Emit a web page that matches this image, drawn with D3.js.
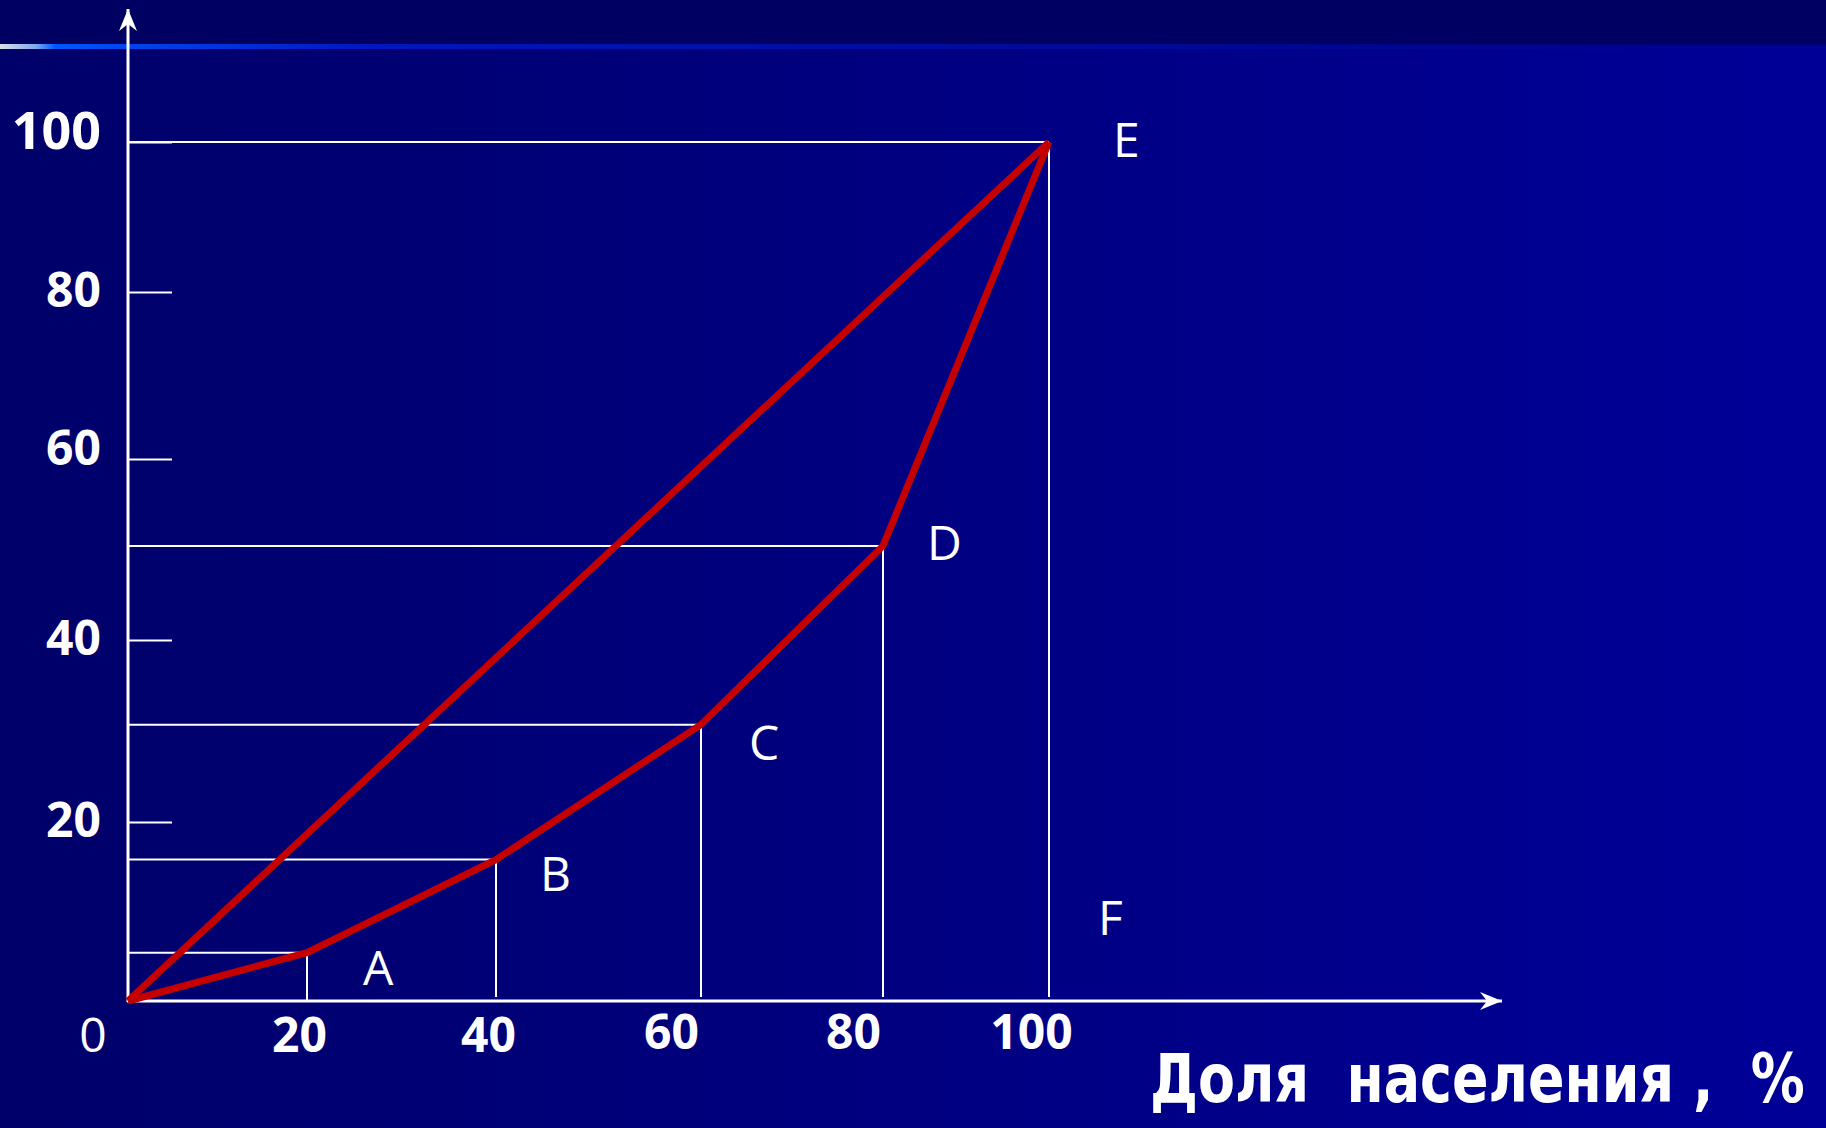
<!DOCTYPE html>
<html>
<head>
<meta charset="utf-8">
<script src="https://cdn.jsdelivr.net/npm/d3@7"></script>
<style>
  body { margin: 0; background: #000066; }
  svg { display: block; }
</style>
</head>
<body>
<svg id="chart" width="1826" height="1128"></svg>
<script>
// Lorenz curve data
const shareTicks = [0, 20, 40, 60, 80, 100];
const pointNames = ['O', 'A', 'B', 'C', 'D', 'E'];
const populationShare = [0, 20, 40, 60, 80, 100];
const incomeShare = [0, 5.4, 15.8, 30.7, 50.4, 100];
const yTickValues = [20, 40, 60, 80, 100];
const xTickValues = [20, 40, 60, 80, 100];
const originLabel = '0';
const axisTitle = 'Доля  населения ,  %';

const width = 1826;
const height = 1128;

// the drawing is hand-made, so scales are piecewise
const x = d3.scaleLinear().domain(shareTicks).range([128, 307, 496, 701, 883, 1049]);
const y = d3.scaleLinear().domain(shareTicks).range([1001, 822, 640, 459, 292, 142]);

const labelOffsets = {
  A: [56, 32], B: [44, 31], C: [48, 35], D: [44, 14], E: [64, 15], F: [49, -66]
};
const xLabelShift = { 20: -8, 40: -8, 60: -30, 80: -30, 100: -18 };

const points = populationShare.map((p, i) => ({ name: pointNames[i], px: p, py: incomeShare[i] }));

const svg = d3.select('#chart');
const defs = svg.append('defs');

const bg = defs.append('linearGradient').attr('id', 'bg').attr('x1', 0).attr('x2', 1).attr('y1', 0).attr('y2', 0);
bg.append('stop').attr('offset', 0).attr('stop-color', '#00006a');
bg.append('stop').attr('offset', 1).attr('stop-color', '#000098');

const rule = defs.append('linearGradient').attr('id', 'rule').attr('x1', 0).attr('x2', 1).attr('y1', 0).attr('y2', 0);
[[0, '#d8e0e8', 1], [0.02, '#7aa8f0', 1], [0.03, '#0058ff', 1], [0.06, '#0048f0', 1],
 [0.2, '#0018c0', 1], [0.6, '#000ca0', 0.8], [1, '#000890', 0.3]].forEach(([o, c, a]) => {
  rule.append('stop').attr('offset', o).attr('stop-color', c).attr('stop-opacity', a);
});

defs.append('marker')
  .attr('id', 'arrow')
  .attr('markerUnits', 'userSpaceOnUse')
  .attr('viewBox', '-24 -10 26 20')
  .attr('refX', 0).attr('refY', 0)
  .attr('markerWidth', 26).attr('markerHeight', 20)
  .attr('orient', 'auto')
  .append('path')
  .attr('d', 'M0,0 L-22,-9 L-15,0 L-22,9 Z')
  .attr('fill', '#ffffff');

// background
svg.append('rect').attr('width', width).attr('height', height).attr('fill', 'url(#bg)');
svg.append('rect').attr('width', width).attr('height', 46).attr('fill', '#000062');
svg.append('rect').attr('y', 44).attr('width', width).attr('height', 5).attr('fill', 'url(#rule)');

const g = svg.append('g');

// guide lines to each point
const guides = points.filter(d => d.name !== 'O');
g.selectAll('.hguide').data(guides).join('line')
  .attr('x1', x(0)).attr('x2', d => x(d.px))
  .attr('y1', d => y(d.py)).attr('y2', d => y(d.py))
  .attr('stroke', '#ffffff').attr('stroke-width', 2);
g.selectAll('.vguide').data(guides).join('line')
  .attr('x1', d => x(d.px)).attr('x2', d => x(d.px))
  .attr('y1', d => y(d.py)).attr('y2', d => d.name === 'A' ? y(0) : y(0) - 4)
  .attr('stroke', '#ffffff').attr('stroke-width', 2);

// y axis ticks and labels
const yAxis = d3.axisLeft(y).tickValues(yTickValues).tickSize(-44).tickPadding(27);
const yg = g.append('g').attr('transform', `translate(${x(0)},0)`).call(yAxis);
yg.select('.domain').remove();
yg.selectAll('line').attr('stroke', '#ffffff').attr('stroke-width', 2);
yg.selectAll('text')
  .attr('fill', '#ffffff')
  .attr('font-family', '"Open Sans", sans-serif')
  .attr('font-weight', 700)
  .attr('font-size', d => d === 100 ? 52 : 48)
  .attr('dy', d => (d === 100 || d === 60) ? '0.12em' : '0.3em');

// x axis labels (hand-placed in the original, so nudged toward the left)
const xAxis = d3.axisBottom(x).tickValues(xTickValues).tickSize(0).tickPadding(14);
const xg = g.append('g').attr('transform', `translate(0,${y(0)})`).call(xAxis);
xg.select('.domain').remove();
xg.selectAll('text')
  .attr('fill', '#ffffff')
  .attr('font-family', '"Open Sans", sans-serif')
  .attr('font-weight', 700)
  .attr('font-size', 48)
  .attr('dx', d => xLabelShift[d])
  .attr('dy', d => d <= 40 ? '0.78em' : '0.7em');

g.append('text')
  .attr('x', x(0) - 35).attr('y', y(0) + 51)
  .attr('text-anchor', 'middle')
  .attr('fill', '#ffffff')
  .attr('font-family', '"Open Sans", sans-serif')
  .attr('font-size', 48)
  .text(originLabel);

// axes with arrows
g.append('line')
  .attr('x1', x(0)).attr('y1', y(0) + 1)
  .attr('x2', x(0)).attr('y2', 9)
  .attr('stroke', '#ffffff').attr('stroke-width', 3)
  .attr('marker-end', 'url(#arrow)');
g.append('line')
  .attr('x1', x(0) - 1).attr('y1', y(0))
  .attr('x2', 1502).attr('y2', y(0))
  .attr('stroke', '#ffffff').attr('stroke-width', 3)
  .attr('marker-end', 'url(#arrow)');

// equality line and Lorenz curve
const line = d3.line().x(d => x(d.px)).y(d => y(d.py));
g.append('path')
  .attr('d', line([points[0], points[points.length - 1]]))
  .attr('fill', 'none').attr('stroke', '#c40000').attr('stroke-width', 7);
g.append('path')
  .attr('d', line(points))
  .attr('fill', 'none').attr('stroke', '#c40000').attr('stroke-width', 7)
  .attr('stroke-linejoin', 'miter');

// point letters
const letters = guides.concat([{ name: 'F', px: 100, py: 0 }]);
g.selectAll('.pt').data(letters).join('text')
  .attr('x', d => x(d.px) + labelOffsets[d.name][0])
  .attr('y', d => y(d.py) + labelOffsets[d.name][1])
  .attr('fill', '#ffffff')
  .attr('font-family', '"Open Sans", sans-serif')
  .attr('font-size', 48)
  .text(d => d.name);

// axis title: squeeze the bold face horizontally to the original's width
const title = svg.append('text')
  .attr('fill', '#ffffff')
  .attr('font-family', '"DejaVu Sans Condensed", "DejaVu Sans", sans-serif')
  .attr('font-weight', 700)
  .attr('font-size', 67)
  .style('white-space', 'pre')
  .text(axisTitle);
const natural = title.node().getComputedTextLength();
title.attr('transform', `translate(1150,1102) scale(${655 / natural},1)`);
</script>
</body>
</html>
